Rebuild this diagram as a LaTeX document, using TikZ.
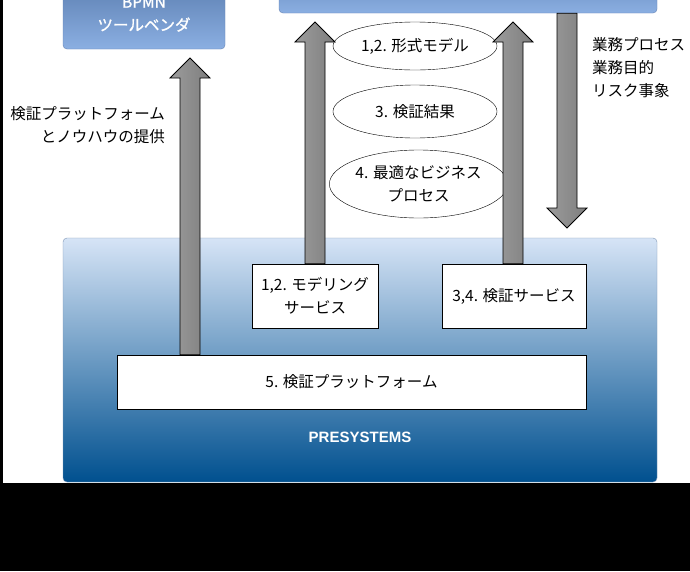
\documentclass[tikz,border=0pt]{standalone}
\usepackage{fontspec}
\setmainfont{Noto Sans CJK JP}
\newfontfamily\jpbold[FakeBold=1.2]{Noto Sans CJK JP}
\newfontfamily\latinsans{Liberation Sans}
\usetikzlibrary{calc, positioning, shapes.geometric}
\definecolor{VendorTop}{HTML}{5B7EB0}
\definecolor{VendorBottom}{HTML}{8BAFE2}
\definecolor{VendorEdge}{HTML}{6683B4}
\definecolor{PresysTop}{HTML}{D6E4F6}
\definecolor{PresysBottom}{HTML}{00508F}
\definecolor{PresysEdge}{HTML}{7F96B5}
\definecolor{ArrowLight}{HTML}{9C9C9C}
\definecolor{ArrowDark}{HTML}{7E7E7E}
% vertical block arrow from #1 (tail) to #2 (tip)
\newcommand{\blockarrow}[2]{%
  \draw[blockarrow] let \p1=(#1), \p2=(#2), \n1={sign(\y2-\y1)*20} in
    (\x1-10pt,\y1) -- (\x1-10pt,\y2-\n1*1pt) -- (\x1-20pt,\y2-\n1*1pt) -- (\x1,\y2)
    -- (\x1+20pt,\y2-\n1*1pt) -- (\x1+10pt,\y2-\n1*1pt) -- (\x1+10pt,\y1) -- cycle;}

\begin{document}
\begin{tikzpicture}[x=1pt, y=-1pt,
    every node/.style={font=\fontsize{15.5}{23}\selectfont},
    bluebox/.style={draw=VendorEdge, rounded corners=4pt, top color=VendorTop, bottom color=VendorBottom, text=white, align=center},
    presysbox/.style={draw=PresysEdge, rounded corners=4pt, top color=PresysTop, bottom color=PresysBottom},
    servicebox/.style={draw, fill=white, align=center, inner sep=0pt},
    bubble/.style={ellipse, draw, fill=white, align=center, inner sep=0pt},
    blockarrow/.style={draw=black, line width=0.8pt, left color=ArrowLight, right color=ArrowDark}]
    % Page
    \useasboundingbox (0,0) rectangle (690,571);
    \clip (0,0) rectangle (690,571);
    \fill[black] (0,0) rectangle (690,571);
    \fill[white] (3,0) rectangle (690,483);
    % Outside parties
    \node[bluebox, font=\jpbold\fontsize{15.5}{23}\selectfont, minimum width=162pt, minimum height=70pt] (vendor) at (144,14) {BPMN\\ツールベンダ};
    \node[bluebox, minimum width=378pt, minimum height=53pt] (client) at (468,-13.5) {};
    % PRESYSTEMS
    \node[presysbox, minimum width=594pt, minimum height=244pt] (presys) at (360,360) {};
    \node[font=\latinsans\fontsize{15}{18}\selectfont\bfseries, text=white] (presyslabel) at (360,437) {PRESYSTEMS};
    \node[servicebox, minimum width=126pt, minimum height=64pt] (model) at (315,296) {1,2. モデリング\\サービス};
    \node[servicebox, minimum width=144pt, minimum height=64pt] (verify) at (514,296) {3,4. 検証サービス};
    \node[servicebox, minimum width=469pt, minimum height=54pt] (platform) at (351.5,382) {5. 検証プラットフォーム};
    % Exchanged items
    \node[bubble, minimum width=164pt, minimum height=48pt] (formal) at (415,46) {1,2. 形式モデル};
    \node[bubble, minimum width=164pt, minimum height=53pt] (result) at (415,111.5) {3. 検証結果};
    \node[bubble, minimum width=171pt, minimum height=68pt] (optimal) at (418.5,184) {4. 最適なビジネス\\プロセス};
    % Arrow labels
    \node[align=right, anchor=east, inner sep=0pt] (knowhow) at (165,125.5) {検証プラットフォーム\\とノウハウの提供};
    \node[align=left, anchor=west, inner sep=0pt] (inputs) at (592,67.5) {業務プロセス\\業務目的\\リスク事象};
    % Block arrows
    \coordinate (tipvendor) at (190,58);
    \coordinate (tipmodel) at (315,22);
    \coordinate (tipverify) at (513,22);
    \coordinate (tipdown) at (567,228);
    \blockarrow{platform.north -| tipvendor}{tipvendor}
    \blockarrow{model.north}{tipmodel}
    \blockarrow{verify.north -| tipverify}{tipverify}
    \blockarrow{client.south -| tipdown}{tipdown}
\end{tikzpicture}
\end{document}
